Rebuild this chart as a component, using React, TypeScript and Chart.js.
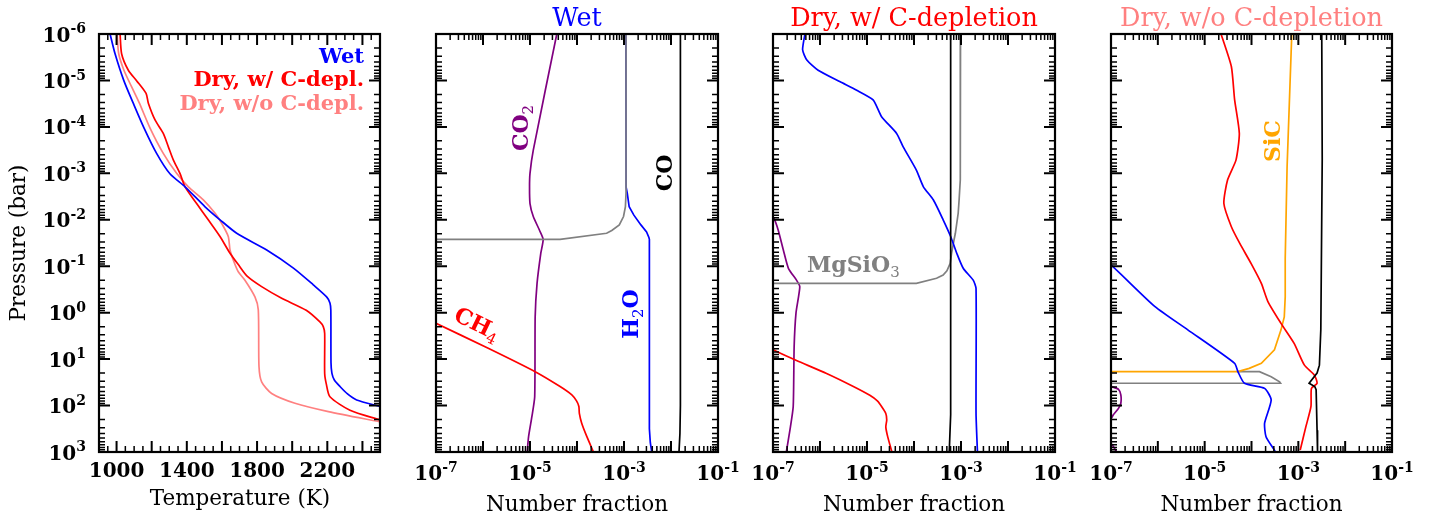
import React, { useEffect, useRef } from 'react';
import { Chart, registerables } from 'chart.js';

Chart.register(...registerables);

const W = 1435;
const H = 517;
const FONT = "'DejaVu Serif', serif";

// ---------------- tick values ----------------
const pressureDecades = [-6, -5, -4, -3, -2, -1, 0, 1, 2, 3];
const fractionDecades = [-7, -6, -5, -4, -3, -2, -1];
const fractionLabelDecades = [-7, -5, -3, -1];
const tempMajorTicks = [1000, 1200, 1400, 1600, 1800, 2000, 2200, 2400];
const tempLabelTicks = [1000, 1400, 1800, 2200];

// ---------------- Panel 1: temperature profiles (log10 P in bar, T in K) ----------------
const tpWet_logP = [-6, -5.58, -4.99, -4.51, -3.98, -3.43, -2.99, -2.71, -2.28, -2.0, -1.71, -1.35, -0.96, -0.6, -0.34, -0.21, -0.05, 1.08, 1.3, 1.45, 1.59, 1.75, 1.88, 2.02];
const tpWet_T = [963, 991, 1042, 1095, 1156, 1228, 1304, 1390, 1504, 1589, 1684, 1855, 2007, 2120, 2196, 2215, 2220, 2221, 2226, 2240, 2272, 2315, 2367, 2500];

const tpDryC_logP = [-6, -5.57, -5.22, -4.99, -4.72, -4.51, -4.15, -3.86, -3.57, -3.29, -3.0, -2.71, -2.35, -2.0, -1.64, -1.28, -1.0, -0.78, -0.56, -0.31, -0.05, 0.2, 0.3, 0.45, 1.31, 1.55, 1.81, 2.1, 2.31];
const tpDryC_T = [1020, 1029, 1067, 1115, 1168, 1181, 1219, 1266, 1295, 1323, 1361, 1390, 1456, 1522, 1589, 1646, 1700, 1745, 1826, 1940, 2080, 2158, 2177, 2185, 2185, 2195, 2215, 2329, 2500];

const tpDryNoC_logP = [-6, -5.58, -5.22, -4.86, -4.51, -3.98, -3.43, -3.0, -2.71, -2.43, -2.14, -1.92, -1.64, -1.35, -1.13, -0.88, -0.7, -0.34, -0.06, 1.16, 1.49, 1.74, 1.95, 2.13, 2.35];
const tpDryNoC_T = [1003, 1012, 1042, 1086, 1130, 1190, 1266, 1342, 1409, 1494, 1561, 1599, 1636, 1646, 1665, 1693, 1731, 1788, 1807, 1811, 1826, 1883, 2016, 2206, 2500];

// ---------------- Panel 2: Wet (log10 number fraction, log10 P) ----------------
const wetCO_logF = [-1.8, -1.8, -1.81, -1.83];
const wetCO_logP = [-6, 2.0, 2.6, 3.0];
const wetMgSiO3_logF = [-2.957, -2.957, -2.97, -3.01, -3.1, -3.26, -3.37, -4.36, -8];
const wetMgSiO3_logP = [-6, -2.57, -2.28, -2.07, -1.89, -1.77, -1.71, -1.58, -1.58];
const wetH2O_logF = [-2.96, -2.955, -2.93, -2.89, -2.79, -2.64, -2.52, -2.47, -2.46, -2.46, -2.44, -2.41];
const wetH2O_logP = [-6, -2.7, -2.57, -2.28, -2.1, -1.89, -1.74, -1.62, -1.58, 2.5, 2.8, 3.0];
const wetCO2_logF = [-4.43, -4.93, -5.0, -5.01, -5.0, -4.93, -4.8, -4.72, -4.77, -4.85, -4.89, -4.9, -4.96, -5.03, -5.06];
const wetCO2_logP = [-6, -3.5, -3.0, -2.71, -2.35, -2.07, -1.78, -1.58, -1.28, -0.63, 0.09, 1.81, 2.24, 2.67, 3.0];
const wetCH4_logF = [-7, -5.9, -4.89, -4.36, -4.11, -4.01, -3.96, -3.95, -3.9, -3.79, -3.65];
const wetCH4_logP = [0.23, 0.76, 1.27, 1.59, 1.77, 1.9, 2.02, 2.17, 2.38, 2.67, 3.0];

// ---------------- Panel 3: Dry, with C-depletion ----------------
const dryCH2O_logF = [-6.32, -6.37, -6.28, -6.04, -5.57, -5.22, -4.87, -4.69, -4.37, -4.23, -3.95, -3.8, -3.59, -3.38, -3.22, -3.09, -2.95, -2.74, -2.68, -2.68, -2.65];
const dryCH2O_logP = [-6, -5.66, -5.44, -5.22, -4.97, -4.79, -4.58, -4.22, -3.86, -3.57, -3.07, -2.71, -2.43, -2.0, -1.64, -1.28, -0.95, -0.7, -0.52, 2.17, 3.0];
const dryCCO_logF = [-3.22, -3.22, -3.25];
const dryCCO_logP = [-6, 2.2, 3.0];
const dryCMgSiO3_logF = [-3.01, -3.01, -3.02, -3.04, -3.06, -3.12, -3.15, -3.2, -3.23, -3.3, -3.38, -3.52, -3.95, -8];
const dryCMgSiO3_logP = [-6, -3.5, -2.86, -2.43, -2.14, -1.71, -1.56, -1.28, -1.06, -0.9, -0.81, -0.74, -0.63, -0.63];
const dryCCO2_logF = [-7.1, -6.98, -6.89, -6.78, -6.67, -6.5, -6.43, -6.51, -6.55, -6.57, -6.64, -6.71, -6.72];
const dryCCO2_logP = [-2.2, -2.03, -1.78, -1.35, -0.95, -0.7, -0.56, 0.0, 0.73, 2.02, 2.53, 2.96, 3.05];
const dryCCH4_logF = [-7, -6.5, -5.86, -5.29, -4.94, -4.78, -4.69, -4.6, -4.58, -4.6, -4.56, -4.47];
const dryCCH4_logP = [0.8, 1.03, 1.31, 1.59, 1.78, 1.9, 2.02, 2.17, 2.31, 2.46, 2.67, 3.0];

// ---------------- Panel 4: Dry, without C-depletion ----------------
const dryNRed_logF = [-4.65, -4.43, -4.36, -4.26, -4.33, -4.51, -4.59, -4.43, -4.25, -4.01, -3.79, -3.65, -3.37, -3.09, -2.87, -2.66, -2.6, -2.72, -2.73, -2.84, -2.96];
const dryNRed_logP = [-6, -5.3, -4.58, -3.86, -3.29, -2.86, -2.35, -1.85, -1.49, -1.06, -0.63, -0.24, 0.23, 0.66, 1.13, 1.34, 1.52, 1.63, 2.02, 2.46, 2.96];
const dryNMgSiO3_logF = [-4.3, -3.83, -3.58, -3.4, -3.38, -8];
const dryNMgSiO3_logP = [1.27, 1.27, 1.38, 1.49, 1.52, 1.52];
const dryNSiC_logF = [-3.14, -3.24, -3.28, -3.28, -3.3, -3.37, -3.51, -3.79, -4.05, -4.29, -8];
const dryNSiC_logP = [-6, -3.14, -1.17, -0.34, 0.09, 0.37, 0.8, 1.09, 1.2, 1.27, 1.27];
const dryNCO_logF = [-2.5, -2.49, -2.52, -2.55, -2.6, -2.77, -2.65, -2.62, -2.6, -2.59];
const dryNCO_logP = [-6, -3.3, 0.37, 1.13, 1.3, 1.52, 1.59, 1.66, 2.53, 3.0];
const dryNH2O_logF = [-7.3, -7, -6.06, -5.36, -4.36, -4.29, -4.15, -3.72, -3.58, -3.72, -3.69, -3.51, -3.49];
const dryNH2O_logP = [-1.25, -1.03, -0.13, 0.37, 1.09, 1.27, 1.52, 1.63, 1.88, 2.38, 2.67, 2.96, 3.0];
const dryNCO2a_logF = [-7.1, -7.0, -6.84, -6.79, -6.79, -6.84, -6.95, -7.0, -7.1];
const dryNCO2a_logP = [1.55, 1.59, 1.65, 1.77, 1.95, 2.06, 2.2, 2.28, 2.35];
const dryNCO2b_logF = [-7.05, -6.95, -6.85];
const dryNCO2b_logP = [2.75, 2.88, 3.05];

// ---------------- colours ----------------
const BLUE = '#0000ff';
const RED = '#ff0000';
const PINK = '#ff8080';
const PURPLE = '#800080';
const GREY = '#808080';
const ORANGE = '#ffa500';
const BLACK = '#000000';

type Seg = { t: string; size: number; bold?: boolean; dy?: number };
type Series = { x: number[]; y: number[]; color: string; tension?: number; logX?: boolean };

function fontOf(s: Seg) {
  return `${s.bold ? 'bold ' : ''}${s.size}px ${FONT}`;
}

function drawRich(ctx: CanvasRenderingContext2D, segs: Seg[], x: number, y: number, align: 'left' | 'center' | 'right', color: string, rot = 0) {
  ctx.save();
  ctx.translate(x, y);
  if (rot) ctx.rotate(rot);
  ctx.fillStyle = color;
  ctx.textAlign = 'left';
  ctx.textBaseline = 'alphabetic';
  let w = 0;
  const widths = segs.map((s) => {
    ctx.font = fontOf(s);
    const m = ctx.measureText(s.t).width;
    w += m;
    return m;
  });
  let cx = align === 'center' ? -w / 2 : align === 'right' ? -w : 0;
  segs.forEach((s, i) => {
    ctx.font = fontOf(s);
    ctx.fillText(s.t, cx, s.dy || 0);
    cx += widths[i];
  });
  ctx.restore();
}

function pow10Label(d: number): Seg[] {
  return [
    { t: '10', size: 20, bold: true },
    { t: String(d), size: 14, bold: true, dy: -8.4 },
  ];
}

interface PanelDef {
  left: number;
  right: number;
  logX: boolean;
  xMin: number;
  xMax: number;
  series: Series[];
  decorate: (ctx: CanvasRenderingContext2D, chart: any) => void;
}

const TOP = 34;
const BOTTOM = 452;
const MAJOR = 11;
const MINOR = 6;
const LABEL_SIZE = 21.5;
const TITLE_SIZE = 25.5;

function drawFrameAndTicks(ctx: CanvasRenderingContext2D, chart: any, p: PanelDef) {
  const { left, right, top, bottom } = chart.chartArea;
  const xs = chart.scales.x;
  const ys = chart.scales.y;
  ctx.save();
  ctx.strokeStyle = '#000';
  const hTick = (y: number, len: number, lw: number) => {
    ctx.lineWidth = lw;
    ctx.beginPath();
    ctx.moveTo(left, y);
    ctx.lineTo(left + len, y);
    ctx.moveTo(right, y);
    ctx.lineTo(right - len, y);
    ctx.stroke();
  };
  const vTick = (x: number, len: number, lw: number) => {
    ctx.lineWidth = lw;
    ctx.beginPath();
    ctx.moveTo(x, bottom);
    ctx.lineTo(x, bottom - len);
    ctx.moveTo(x, top);
    ctx.lineTo(x, top + len);
    ctx.stroke();
  };
  pressureDecades.forEach((d, i) => {
    hTick(ys.getPixelForValue(10 ** d), MAJOR, 2);
    if (i < pressureDecades.length - 1) {
      for (let k = 2; k <= 9; k++) hTick(ys.getPixelForValue(k * 10 ** d), MINOR, 1.5);
    }
  });
  if (p.logX) {
    fractionDecades.forEach((d, i) => {
      vTick(xs.getPixelForValue(10 ** d), MAJOR, 2);
      if (i < fractionDecades.length - 1) {
        for (let k = 2; k <= 9; k++) vTick(xs.getPixelForValue(k * 10 ** d), MINOR, 1.5);
      }
    });
  } else {
    for (let t = p.xMin + 50; t < p.xMax; t += 50) {
      if (tempMajorTicks.indexOf(t) >= 0) vTick(xs.getPixelForValue(t), MAJOR, 2);
      else vTick(xs.getPixelForValue(t), MINOR, 1.5);
    }
  }
  ctx.lineWidth = 2.2;
  ctx.strokeRect(left, top, right - left, bottom - top);
  ctx.restore();
}

function drawFractionAxisLabels(ctx: CanvasRenderingContext2D, chart: any) {
  const xs = chart.scales.x;
  fractionLabelDecades.forEach((d) => {
    drawRich(ctx, pow10Label(d), xs.getPixelForValue(10 ** d), 480, 'center', '#000');
  });
  const { left, right } = chart.chartArea;
  drawRich(ctx, [{ t: 'Number fraction', size: LABEL_SIZE }], (left + right) / 2, 511, 'center', '#000');
}

function title(ctx: CanvasRenderingContext2D, chart: any, text: string, color: string) {
  const { left, right } = chart.chartArea;
  drawRich(ctx, [{ t: text, size: TITLE_SIZE }], (left + right) / 2, 26, 'center', color);
}

const VERT = -Math.PI / 2;

// series listed bottom-to-top (later entries drawn over earlier ones)
const PANELS: PanelDef[] = [
  {
    left: 99,
    right: 380,
    logX: false,
    xMin: 900,
    xMax: 2500,
    series: [
      { x: tpDryNoC_T, y: tpDryNoC_logP, color: PINK, tension: 0.25 },
      { x: tpDryC_T, y: tpDryC_logP, color: RED, tension: 0.25 },
      { x: tpWet_T, y: tpWet_logP, color: BLUE, tension: 0.25 },
    ],
    decorate: (ctx, chart) => {
      const xs = chart.scales.x;
      const ys = chart.scales.y;
      const { left } = chart.chartArea;
      pressureDecades.forEach((d) => {
        drawRich(ctx, pow10Label(d), left - 13, ys.getPixelForValue(10 ** d) + 7.5, 'right', '#000');
      });
      tempLabelTicks.forEach((t) => {
        drawRich(ctx, [{ t: String(t), size: 20, bold: true }], xs.getPixelForValue(t), 477, 'center', '#000');
      });
      drawRich(ctx, [{ t: 'Temperature (K)', size: LABEL_SIZE }], 240, 505, 'center', '#000');
      drawRich(ctx, [{ t: 'Pressure (bar)', size: LABEL_SIZE }], 24.5, 243, 'center', '#000', VERT);
      drawRich(ctx, [{ t: 'Wet', size: 21, bold: true }], 364, 62.5, 'right', BLUE);
      drawRich(ctx, [{ t: 'Dry, w/ C-depl.', size: 21, bold: true }], 364, 86, 'right', RED);
      drawRich(ctx, [{ t: 'Dry, w/o C-depl.', size: 21, bold: true }], 364, 109.5, 'right', PINK);
    },
  },
  {
    left: 436,
    right: 718,
    logX: true,
    xMin: 1e-7,
    xMax: 1e-1,
    series: [
      { x: wetH2O_logF, y: wetH2O_logP, color: BLUE, logX: true },
      { x: wetCO2_logF, y: wetCO2_logP, color: PURPLE, logX: true, tension: 0.2 },
      { x: wetMgSiO3_logF, y: wetMgSiO3_logP, color: GREY, logX: true },
      { x: wetCH4_logF, y: wetCH4_logP, color: RED, logX: true, tension: 0.2 },
      { x: wetCO_logF, y: wetCO_logP, color: BLACK, logX: true },
    ],
    decorate: (ctx, chart) => {
      title(ctx, chart, 'Wet', BLUE);
      drawFractionAxisLabels(ctx, chart);
      drawRich(ctx, [{ t: 'CO', size: 22, bold: true }, { t: '2', size: 15, dy: 5 }], 528, 128, 'center', PURPLE, VERT);
      drawRich(ctx, [{ t: 'CO', size: 22, bold: true }], 672, 173, 'center', BLACK, VERT);
      drawRich(ctx, [{ t: 'H', size: 22, bold: true }, { t: '2', size: 15, dy: 5 }, { t: 'O', size: 22, bold: true }], 638, 314, 'center', BLUE, VERT);
      const a = Math.atan(0.489);
      drawRich(ctx, [{ t: 'CH', size: 22, bold: true }, { t: '4', size: 15, dy: 5 }], 477 - 7 * Math.sin(a), 324 + 7 * Math.cos(a), 'center', RED, a);
    },
  },
  {
    left: 773,
    right: 1055,
    logX: true,
    xMin: 1e-7,
    xMax: 1e-1,
    series: [
      { x: dryCCO2_logF, y: dryCCO2_logP, color: PURPLE, logX: true, tension: 0.2 },
      { x: dryCCH4_logF, y: dryCCH4_logP, color: RED, logX: true, tension: 0.2 },
      { x: dryCMgSiO3_logF, y: dryCMgSiO3_logP, color: GREY, logX: true },
      { x: dryCH2O_logF, y: dryCH2O_logP, color: BLUE, logX: true, tension: 0.2 },
      { x: dryCCO_logF, y: dryCCO_logP, color: BLACK, logX: true },
    ],
    decorate: (ctx, chart) => {
      title(ctx, chart, 'Dry, w/ C-depletion', RED);
      drawFractionAxisLabels(ctx, chart);
      drawRich(ctx, [{ t: 'MgSiO', size: 22, bold: true }, { t: '3', size: 15, dy: 5 }], 807, 272, 'left', GREY);
    },
  },
  {
    left: 1111,
    right: 1392,
    logX: true,
    xMin: 1e-7,
    xMax: 1e-1,
    series: [
      { x: dryNCO2a_logF, y: dryNCO2a_logP, color: PURPLE, logX: true, tension: 0.2 },
      { x: dryNCO2b_logF, y: dryNCO2b_logP, color: PURPLE, logX: true },
      { x: dryNMgSiO3_logF, y: dryNMgSiO3_logP, color: GREY, logX: true },
      { x: dryNSiC_logF, y: dryNSiC_logP, color: ORANGE, logX: true },
      { x: dryNH2O_logF, y: dryNH2O_logP, color: BLUE, logX: true, tension: 0.2 },
      { x: dryNRed_logF, y: dryNRed_logP, color: RED, logX: true, tension: 0.2 },
      { x: dryNCO_logF, y: dryNCO_logP, color: BLACK, logX: true },
    ],
    decorate: (ctx, chart) => {
      title(ctx, chart, 'Dry, w/o C-depletion', PINK);
      drawFractionAxisLabels(ctx, chart);
      drawRich(ctx, [{ t: 'SiC', size: 22, bold: true }], 1280, 141, 'center', ORANGE, VERT);
    },
  },
];

function buildConfig(p: PanelDef): any {
  // Chart.js paints dataset 0 last (on top), so reverse the bottom-to-top list
  const ordered = p.series.slice().reverse();
  return {
    type: 'scatter',
    data: {
      datasets: ordered.map((s) => ({
        data: s.x.map((v, i) => ({ x: s.logX ? 10 ** v : v, y: 10 ** s.y[i] })),
        showLine: true,
        borderColor: s.color,
        backgroundColor: s.color,
        borderWidth: 1.7,
        pointRadius: 0,
        pointHoverRadius: 0,
        tension: s.tension || 0,
        fill: false,
      })),
    },
    options: {
      responsive: false,
      animation: false,
      devicePixelRatio: 1,
      events: [],
      layout: { padding: { left: p.left, right: W - p.right, top: TOP, bottom: H - BOTTOM } },
      scales: {
        x: { type: p.logX ? 'logarithmic' : 'linear', min: p.xMin, max: p.xMax, display: false },
        y: { type: 'logarithmic', min: 1e-6, max: 1e3, reverse: true, display: false },
      },
      plugins: { legend: { display: false }, tooltip: { enabled: false }, title: { display: false } },
    },
    plugins: [
      {
        id: 'panelDecor',
        afterDraw(chart: any) {
          const ctx = chart.ctx as CanvasRenderingContext2D;
          drawFrameAndTicks(ctx, chart, p);
          p.decorate(ctx, chart);
        },
      },
    ],
  };
}

export default function App() {
  const canvases = useRef<(HTMLCanvasElement | null)[]>([]);
  useEffect(() => {
    const charts = PANELS.map((p, i) => new Chart(canvases.current[i] as HTMLCanvasElement, buildConfig(p)));
    return () => charts.forEach((c) => c.destroy());
  }, []);
  return (
    <div style={{ position: 'absolute', left: 0, top: 0, width: W, height: H, background: '#ffffff' }}>
      {PANELS.map((_, i) => (
        <canvas
          key={i}
          ref={(el) => {
            canvases.current[i] = el;
          }}
          width={W}
          height={H}
          style={{ position: 'absolute', left: 0, top: 0, width: W, height: H }}
        />
      ))}
    </div>
  );
}
